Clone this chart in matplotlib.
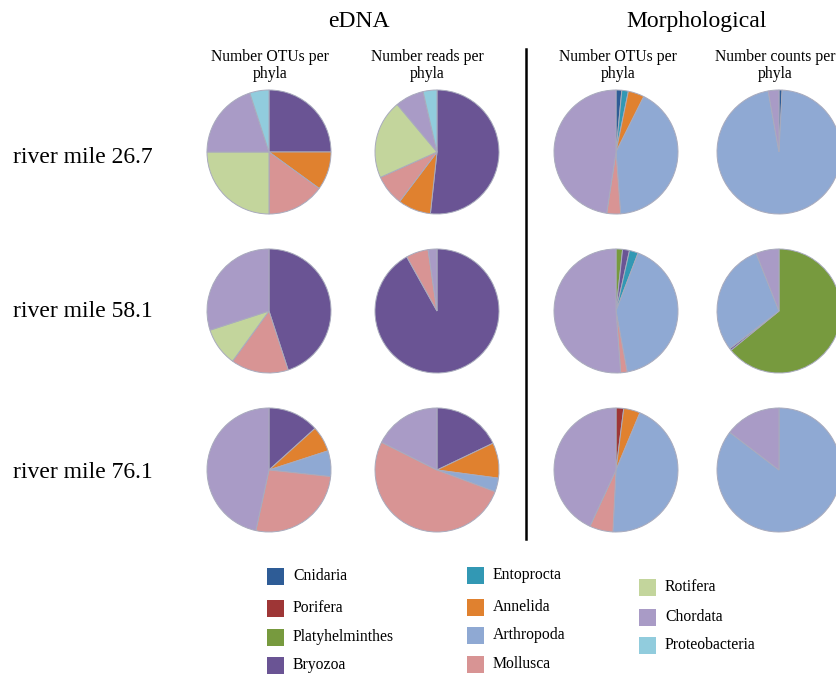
import matplotlib
matplotlib.use("Agg")
import matplotlib.pyplot as plt
from matplotlib.patches import Rectangle
from matplotlib.lines import Line2D

plt.rcParams['font.family'] = ['Liberation Serif', 'DejaVu Serif']

# Phyla in slice order (clockwise from 12 o'clock) and their colours
phyla = ["Cnidaria", "Porifera", "Platyhelminthes", "Bryozoa", "Entoprocta",
         "Annelida", "Arthropoda", "Mollusca", "Rotifera", "Chordata",
         "Proteobacteria"]
phylum_colors = ["#2E5C96", "#9E3636", "#779A3E", "#6A5494", "#3298B4",
                 "#E0812F", "#8FA9D3", "#D89494", "#C3D59C", "#A99BC6",
                 "#91CCDD"]

# Percent of each phylum per pie (same order as `phyla`)
#                  Cni  Por  Pla   Bry   Ent  Ann   Art   Mol   Rot   Cho   Pro
edna_otus_267   = [0,   0,   0,    25,   0,   10,   0,    15,   25,   20,   5]
edna_reads_267  = [0,   0,   0,    51.7, 0,   8.6,  0,    8.0,  20.6, 7.5,  3.6]
morph_otus_267  = [1.5, 0,   0,    0,    1.7, 4.2,  41.4, 3.6,  0,    47.6, 0]
morph_count_267 = [0.8, 0,   0,    0,    0,   0,    96.4, 0,    0,    2.8,  0]

edna_otus_581   = [0,   0,   0,    45,   0,   0,    0,    15,   10,   30,   0]
edna_reads_581  = [0,   0,   0,    91.9, 0,   0,    0,    5.8,  0,    2.3,  0]
morph_otus_581  = [0,   0,   1.7,  1.8,  2.3, 0,    41.3, 1.7,  0,    51.2, 0]
morph_count_581 = [0,   0,   64.1, 0.5,  0,   0,    29.4, 0,    0,    6.0,  0]

edna_otus_761   = [0,   0,   0,    13.3, 0,   6.7,  6.7,  26.7, 0,    46.6, 0]
edna_reads_761  = [0,   0,   0,    17.9, 0,   9.2,  3.6,  51.7, 0,    17.6, 0]
morph_otus_761  = [0,   2.0, 0,    0,    0,   4.3,  44.5, 6.1,  0,    43.1, 0]
morph_count_761 = [0,   0,   0,    0,    0,   0,    85.4, 0,    0,    14.6, 0]

row_labels = ["river mile 26.7", "river mile 58.1", "river mile 76.1"]
group_titles = ["eDNA", "Morphological"]
column_titles = [("Number OTUs per", "phyla"), ("Number reads per", "phyla"),
                 ("Number OTUs per", "phyla"), ("Number counts per", "phyla")]

pies = [
    [edna_otus_267, edna_reads_267, morph_otus_267, morph_count_267],
    [edna_otus_581, edna_reads_581, morph_otus_581, morph_count_581],
    [edna_otus_761, edna_reads_761, morph_otus_761, morph_count_761],
]

W, H = 836, 677
fig = plt.figure(figsize=(W / 100, H / 100), dpi=100)
fig.patch.set_facecolor("white")


def fx(x):
    return x / W


def fy(y):
    return 1 - y / H


col_x = [269, 437, 616, 779]
row_y = [152, 311, 470]
R = 62

for r, row in enumerate(pies):
    for c, vals in enumerate(row):
        cx, cy = col_x[c], row_y[r]
        ax = fig.add_axes([fx(cx - R), fy(cy + R), 2 * R / W, 2 * R / H])
        v = [x for x in vals if x > 0]
        cols = [phylum_colors[i] for i, x in enumerate(vals) if x > 0]
        ax.pie(v, colors=cols, startangle=90, counterclock=False, radius=1,
               wedgeprops=dict(edgecolor="#a9abbd", linewidth=0.7))
        ax.set_xlim(-1.0, 1.0)
        ax.set_ylim(-1.0, 1.0)
        ax.set_aspect("equal")
        ax.axis("off")
        for p in ax.patches:
            p.set_clip_on(False)

# group headers
fig.text(fx(359), fy(27), group_titles[0], ha="center", va="baseline", fontsize=17)
fig.text(fx(697), fy(27), group_titles[1], ha="center", va="baseline", fontsize=17)

# column sub-headers
sub_x = [270, 427, 618, 775]
for x, (l1, l2) in zip(sub_x, column_titles):
    fig.text(fx(x), fy(61), l1, ha="center", va="baseline", fontsize=11.3)
    fig.text(fx(x), fy(78), l2, ha="center", va="baseline", fontsize=11.3)

# row labels
for lab, yb in zip(row_labels, [163, 317, 478]):
    fig.text(fx(13), fy(yb), lab, ha="left", va="baseline", fontsize=17)

# divider between eDNA and morphological
fig.add_artist(Line2D([fx(526), fx(526)], [fy(49), fy(539)], color="black",
                      linewidth=1.8, transform=fig.transFigure))

# legend
legend_cols = [
    (267, [576, 608, 637, 665], [0, 1, 2, 3]),
    (467, [575, 607, 635, 664], [4, 5, 6, 7]),
    (639, [587, 617, 645], [8, 9, 10]),
]
sq = 17
for x0, ys, idxs in legend_cols:
    for y, i in zip(ys, idxs):
        fig.add_artist(Rectangle((fx(x0), fy(y + sq / 2)), sq / W, sq / H,
                                 facecolor=phylum_colors[i], edgecolor="none",
                                 transform=fig.transFigure))
        fig.text(fx(x0 + 26), fy(y), phyla[i], ha="left", va="center",
                 fontsize=11.3)

fig.savefig("out.png", dpi=100, facecolor="white")
